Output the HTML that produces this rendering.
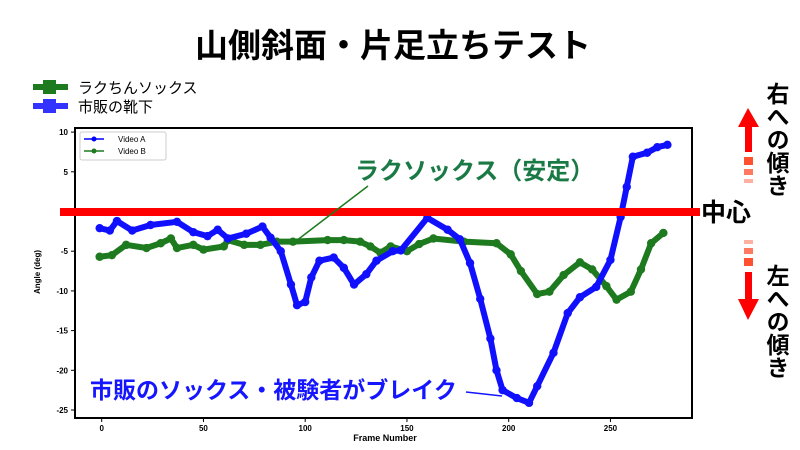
<!DOCTYPE html>
<html><head><meta charset="utf-8"><style>
body{margin:0;background:#fff;width:800px;height:450px;overflow:hidden;font-family:"Liberation Sans","Noto Sans CJK JP",sans-serif}
svg{display:block}
</style></head><body>
<svg id="c" width="800" height="450" xmlns="http://www.w3.org/2000/svg">
<text x="393" y="57" text-anchor="middle" font-size="33" font-weight="bold" font-family="Liberation Sans,Noto Sans CJK JP,sans-serif">山側斜面・片足立ちテスト</text>
<g>
<g><line x1="33" y1="87" x2="68" y2="87" stroke="#1e7a1e" stroke-width="6"/><rect x="43" y="80" width="13" height="14" fill="#1e7a1e"/><text x="78" y="93" font-size="15" font-family="Liberation Sans,Noto Sans CJK JP,sans-serif">ラクちんソックス</text></g>
<g><line x1="33" y1="106" x2="68" y2="106" stroke="#3333ff" stroke-width="6"/><rect x="43" y="99" width="13" height="14" fill="#3333ff"/><text x="78" y="112" font-size="15" font-family="Liberation Sans,Noto Sans CJK JP,sans-serif">市販の靴下</text></g>
</g>
<rect x="75" y="128" width="617" height="290" fill="none" stroke="#000" stroke-width="2"/>
<g id="ticks"></g>
<g id="series"></g>
<text x="385" y="441" text-anchor="middle" font-size="9" font-weight="bold">Frame Number</text>
<text transform="translate(40,272) rotate(-90)" text-anchor="middle" font-size="8" font-weight="bold">Angle (deg)</text>
<g>
<rect x="80" y="132" width="86" height="28" fill="#fff" stroke="#ccc" rx="2"/>
<line x1="84" y1="139" x2="104" y2="139" stroke="#00f" stroke-width="1.5"/><circle cx="94" cy="139" r="2.5" fill="#00f"/>
<text x="118" y="142" font-size="8">Video A</text>
<line x1="84" y1="151" x2="104" y2="151" stroke="#1e7a1e" stroke-width="1.5"/><circle cx="94" cy="151" r="2.5" fill="#1e7a1e"/>
<text x="118" y="154" font-size="8">Video B</text>
</g>
<line x1="60" y1="212" x2="700" y2="212" stroke="#ff0000" stroke-width="8"/>
<text x="701" y="221" font-size="25" font-weight="bold" font-family="Liberation Sans,Noto Sans CJK JP,sans-serif">中心</text>
<text x="355" y="179" font-size="24" font-weight="bold" fill="#1a7a45" font-family="Liberation Sans,Noto Sans CJK JP,sans-serif">ラクソックス（安定）</text>
<line x1="368" y1="186" x2="296" y2="241" stroke="#1e7a1e" stroke-width="1.5"/>
<text x="90" y="398" font-size="23" font-weight="bold" fill="#1515ff" font-family="Liberation Sans,Noto Sans CJK JP,sans-serif">市販のソックス・被験者がブレイク</text>
<line x1="466" y1="392" x2="502" y2="396" stroke="#1515ff" stroke-width="1.5"/>
<g>
<polygon points="748,108 738,127 745,127 745,152 752,152 752,127 759,127" fill="#ff0000"/>
<rect x="744" y="157" width="9" height="8" fill="#ff5030"/><rect x="744" y="169" width="9" height="6" fill="#ff7a60"/><rect x="744" y="179" width="9" height="4" fill="#ffb0a0"/>
</g>
<g>
<rect x="744" y="240" width="9" height="4" fill="#ffb0a0"/><rect x="744" y="248" width="9" height="6" fill="#ff7a60"/><rect x="744" y="258" width="9" height="8" fill="#ff5030"/>
<polygon points="748,320 738,299 745,299 745,272 752,272 752,299 759,299" fill="#ff0000"/>
</g>
<text x="776" y="82" font-size="23" font-weight="bold" font-family="Liberation Sans,Noto Sans CJK JP,sans-serif" style="writing-mode:vertical-rl">右への傾き</text>
<text x="776" y="264" font-size="23" font-weight="bold" font-family="Liberation Sans,Noto Sans CJK JP,sans-serif" style="writing-mode:vertical-rl">左への傾き</text>
</svg>
<script>
const xTicks=[0,50,100,150,200,250];
const yTicks=[10,5,0,-5,-10,-15,-20,-25];
const framesA=[-1,4,7.5,15,24,37,45,52,57,62,71,79,83,88,93,96,100,103,107,114,119,124,130,135,143,147,160,170,176,181,186,191,194,197,204,210,214,222,229,235,243,250,255,258,261,268,273,278];
const valuesA=[-2.1,-2.4,-1.2,-2.4,-1.7,-1.3,-2.6,-3.1,-2.3,-3.4,-2.8,-1.9,-3.3,-5.0,-9.2,-11.8,-11.4,-8.3,-6.2,-5.8,-7.1,-9.2,-7.9,-6.2,-5.0,-4.9,-0.8,-2.3,-3.5,-6.5,-11,-16,-20,-22.5,-23.5,-24.1,-22,-17.8,-12.8,-10.8,-9.5,-6.1,-0.7,3.1,6.9,7.4,8.1,8.4];
const framesB=[-1,5,12,22,29,34,37,45,50,60,62,70,78,86,94,111,119,127,132,137,142,150,156,163,178,194,201,206,214,220,227,235,241,248,253,260,265,270,276];
const valuesB=[-5.7,-5.5,-4.2,-4.6,-4.0,-3.4,-4.6,-4.2,-4.8,-4.4,-3.6,-4.2,-4.2,-3.8,-3.8,-3.6,-3.6,-3.8,-4.4,-5.2,-4.4,-5.0,-4.1,-3.4,-3.8,-4.0,-5.4,-7.5,-10.4,-10.1,-8.0,-6.4,-7.3,-9.4,-11.1,-10.1,-7.3,-4.0,-2.7];
const NS='http://www.w3.org/2000/svg';
const xS=f=>101.7+f*2.035;
const yS=v=>211.5-v*7.94;
const tg=document.getElementById('ticks');
function mk(tag,attrs,parent){const e=document.createElementNS(NS,tag);for(const k in attrs)e.setAttribute(k,attrs[k]);parent.appendChild(e);return e;}
xTicks.forEach(t=>{
  const l=mk('line',{x1:xS(t),x2:xS(t),y1:418,y2:422,stroke:'#000'},tg);
  
  
  const tx=mk('text',{x:xS(t),y:431,'text-anchor':'middle','font-size':8,'font-weight':'bold'},tg);
  tx.textContent=t;
  
  
});
yTicks.forEach(t=>{
  const l=mk('line',{x1:71,x2:75,y1:yS(t),y2:yS(t),stroke:'#000'},tg);
  
  
  const tx=mk('text',{x:68,y:yS(t)+3,'text-anchor':'end','font-size':8,'font-weight':'bold'},tg);
  tx.textContent=t;
  
  
});
const sg=document.getElementById('series');
function drawSeries(fr,vals,color,name){
  const g=mk('g',{},sg);
  
  
  const pts=fr.map((f,i)=>xS(f)+','+yS(vals[i])).join(' ');
  const pl=mk('polyline',{points:pts,fill:'none',stroke:color,'stroke-width':6,'stroke-linejoin':'round','stroke-linecap':'round'},g);
  
  
  fr.forEach((f,i)=>{
    const c=mk('circle',{cx:xS(f),cy:yS(vals[i]),r:4.2,fill:color},g);
    
    
  });
}
drawSeries(framesB,valuesB,'#1e7a1e','series-video-b');
drawSeries(framesA,valuesA,'#1010ff','series-video-a');
</script>
</body></html>
